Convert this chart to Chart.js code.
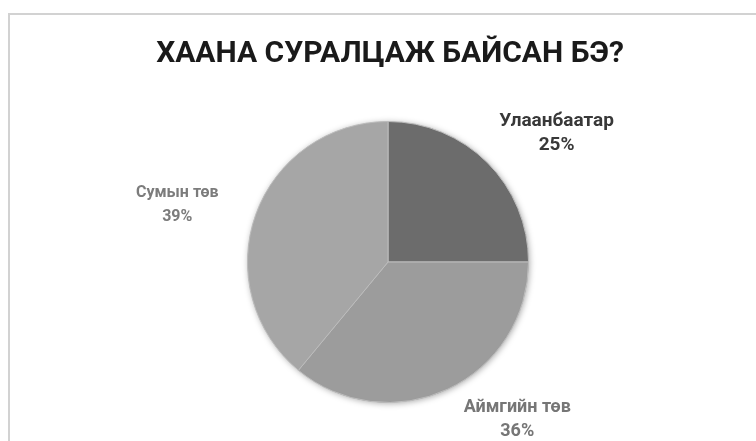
<!DOCTYPE html>
<html>
<head>
<meta charset="utf-8">
<script src="https://cdn.jsdelivr.net/npm/chart.js@4.4.1/dist/chart.umd.min.js"></script>
<style>
  html, body { margin: 0; padding: 0; background: #fff; }
  #wrap { width: 756px; height: 441px; position: relative; }
</style>
</head>
<body>
<div id="wrap"><canvas id="c" width="756" height="441"></canvas></div>
<script>
// Where respondents studied (share of answers, %)
const titleText = 'ХААНА СУРАЛЦАЖ БАЙСАН БЭ?';
const categories = ['Улаанбаатар', 'Аймгийн төв', 'Сумын төв'];
const shares = [25, 36, 39];

const sliceColors = ['#6c6c6c', '#9c9c9c', '#a6a6a6'];
const labelColors = ['#383838', '#767676', '#7c7c7c'];
const labelFonts = ['bold 19px', 'bold 18px', 'bold 16px'];
const labelGaps = [24, 24, 24];
// label anchor (first baseline) relative to the pie centre, in radius units
const labelOffsets = [[1.20, -0.97], [0.92, 1.07], [-1.50, -0.46]];
const FONT = 'Roboto, "Open Sans", sans-serif';

const decor = {
  id: 'decor',
  beforeDraw(chart) {
    const ctx = chart.ctx;
    ctx.save();
    ctx.fillStyle = '#fff';
    ctx.fillRect(0, 0, chart.width, chart.height);
    ctx.strokeStyle = '#d2d2d2';
    ctx.lineWidth = 2;
    ctx.strokeRect(9, 14, 900, 600);
    ctx.fillStyle = '#1a1a1a';
    ctx.font = 'bold 30px ' + FONT;
    ctx.textAlign = 'center';
    ctx.textBaseline = 'alphabetic';
    ctx.fillText(titleText, 390, 62);
    ctx.restore();
  },
  beforeDatasetsDraw(chart) {
    const a = chart.getDatasetMeta(0).data[0];
    if (!a) return;
    const ctx = chart.ctx;
    ctx.save();
    ctx.shadowColor = 'rgba(0,0,0,0.35)';
    ctx.shadowBlur = 6;
    ctx.shadowOffsetX = 1;
    ctx.shadowOffsetY = 1;
    ctx.fillStyle = '#9c9c9c';
    ctx.beginPath();
    ctx.arc(a.x, a.y, a.outerRadius, 0, Math.PI * 2);
    ctx.fill();
    ctx.restore();
  },
  afterDatasetsDraw(chart) {
    const ctx = chart.ctx;
    const arcs = chart.getDatasetMeta(0).data;
    const total = shares.reduce((s, v) => s + v, 0);
    ctx.save();
    ctx.textAlign = 'center';
    ctx.textBaseline = 'alphabetic';
    arcs.forEach((arc, i) => {
      const r = arc.outerRadius;
      const x = arc.x + labelOffsets[i][0] * r;
      const y = arc.y + labelOffsets[i][1] * r;
      ctx.font = labelFonts[i] + ' ' + FONT;
      ctx.fillStyle = labelColors[i];
      ctx.fillText(categories[i], x, y);
      ctx.fillText(Math.round(shares[i] / total * 100) + '%', x, y + labelGaps[i]);
    });
    ctx.restore();
  }
};

new Chart(document.getElementById('c'), {
  type: 'pie',
  data: {
    labels: categories,
    datasets: [{
      data: shares,
      backgroundColor: sliceColors,
      borderColor: '#bdbdbd',
      borderWidth: 1
    }]
  },
  options: {
    responsive: false,
    animation: false,
    devicePixelRatio: 1,
    layout: { padding: { left: 247, right: 227, top: 121, bottom: 38 } },
    plugins: {
      legend: { display: false },
      title: { display: false },
      tooltip: { enabled: false }
    }
  },
  plugins: [decor]
});
</script>
</body>
</html>
